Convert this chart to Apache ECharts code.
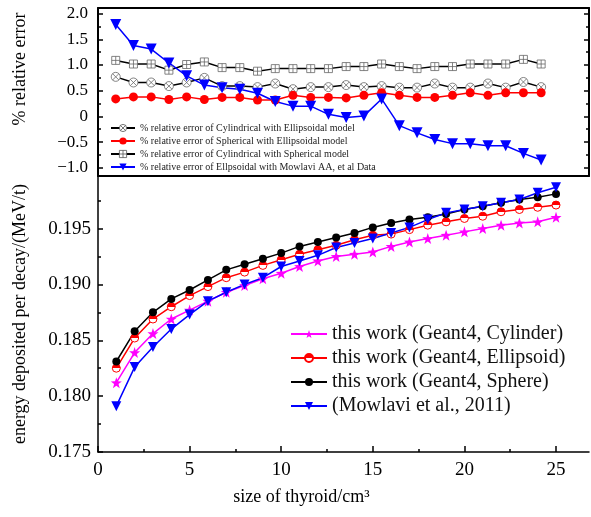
<!DOCTYPE html>
<html>
<head>
<meta charset="utf-8">
<script src="https://cdn.jsdelivr.net/npm/echarts@6/dist/echarts.min.js"></script>
<style>
html, body { margin: 0; padding: 0; background: #fff; }
#chart { width: 591px; height: 517px; }
</style>
</head>
<body>
<div id="chart"></div>
<script>
// thyroid size (cm3)
var sizes = [1, 2, 3, 4, 5, 6, 7, 8, 9, 10, 11, 12, 13, 14, 15, 16, 17, 18, 19, 20, 21, 22, 23, 24, 25];

// upper panel: % relative error
var relNames = [
    '% relative error of Cylindrical with Ellipsoidal model',
    '% relative error of Spherical with Ellipsoidal model',
    '% relative error of Cylindrical with Spherical model',
    '% relative error of Ellpsoidal with Mowlavi AA, et al Data'
];
var relCylEll = [0.77, 0.66, 0.66, 0.59, 0.66, 0.75, 0.59, 0.59, 0.57, 0.64, 0.53, 0.57, 0.57, 0.61, 0.57, 0.59, 0.56, 0.56, 0.64, 0.56, 0.56, 0.64, 0.56, 0.67, 0.57];
var relSphEll = [0.34, 0.38, 0.38, 0.33, 0.38, 0.33, 0.37, 0.37, 0.32, 0.32, 0.41, 0.37, 0.37, 0.36, 0.41, 0.46, 0.41, 0.37, 0.37, 0.41, 0.46, 0.41, 0.46, 0.46, 0.46];
var relCylSph = [1.09, 1.02, 1.02, 0.90, 1.01, 1.06, 0.95, 0.95, 0.88, 0.93, 0.93, 0.93, 0.93, 0.97, 0.97, 1.02, 0.97, 0.93, 0.97, 0.97, 1.02, 1.02, 1.02, 1.11, 1.02];
var relEllMow = [1.79, 1.38, 1.31, 1.04, 0.79, 0.61, 0.56, 0.53, 0.45, 0.29, 0.20, 0.20, 0.04, -0.02, 0.01, 0.34, -0.18, -0.32, -0.45, -0.53, -0.53, -0.57, -0.57, -0.72, -0.85];

// lower panel: energy deposited per decay (MeV/t)
var edNames = [
    'this work (Geant4, Cylinder)',
    'this work (Geant4, Ellipsoid)',
    'this work (Geant4, Sphere)',
    '(Mowlavi et al., 2011)'
];
var edCyl = [0.1812, 0.1839, 0.1856, 0.1869, 0.1877, 0.1885, 0.1893, 0.1899, 0.1905, 0.1910, 0.1916, 0.1921, 0.1925, 0.1927, 0.1929, 0.1934, 0.1938, 0.1941, 0.1944, 0.1947, 0.1950, 0.1953, 0.1955, 0.1956, 0.1960];
var edEll = [0.1825, 0.1852, 0.1869, 0.1880, 0.1890, 0.1898, 0.1906, 0.1911, 0.1917, 0.1922, 0.1927, 0.1931, 0.1935, 0.1940, 0.1944, 0.1945, 0.1949, 0.1953, 0.1956, 0.1959, 0.1961, 0.1965, 0.1967, 0.1969, 0.1971];
var edSph = [0.1831, 0.1858, 0.1875, 0.1887, 0.1895, 0.1904, 0.1913, 0.1918, 0.1923, 0.1928, 0.1934, 0.1938, 0.1942, 0.1946, 0.1951, 0.1955, 0.1958, 0.1960, 0.1963, 0.1967, 0.1970, 0.1973, 0.1976, 0.1978, 0.1981];
var edMow = [0.1791, 0.1826, 0.1844, 0.1860, 0.1873, 0.1885, 0.1893, 0.1900, 0.1906, 0.1916, 0.1921, 0.1926, 0.1933, 0.1937, 0.1941, 0.1946, 0.1951, 0.1958, 0.1964, 0.1967, 0.1970, 0.1973, 0.1976, 0.1982, 0.1987];

// tick positions
var xMajor = [0, 5, 10, 15, 20, 25];
var xMinor = [2.5, 7.5, 12.5, 17.5, 22.5];
var relMajor = [-1, -0.5, 0, 0.5, 1, 1.5, 2];
var relMinor = [-0.75, -0.25, 0.25, 0.75, 1.25, 1.75];
var edMajor = [0.175, 0.18, 0.185, 0.19, 0.195];
var edMinor = [0.1775, 0.1825, 0.1875, 0.1925, 0.1975];

var serif = '"Liberation Serif", "Times New Roman", serif';

// marker shapes
var symCircleX = 'path://M10,0A10,10 0 1,1 -10,0A10,10 0 1,1 10,0Z M-7.07,-7.07L7.07,7.07 M-7.07,7.07L7.07,-7.07';
var symSquarePlus = 'path://M-10,-10L10,-10L10,10L-10,10Z M0,-10L0,10 M-10,0L10,0';
var symTriDown = 'path://M-10,-8L10,-8L0,9Z';
var symStar = 'path://M0,-10L2.35,-3.24L9.51,-3.09L3.8,1.24L5.88,8.09L0,4L-5.88,8.09L-3.8,1.24L-9.51,-3.09L-2.35,-3.24Z';
var halfRed = {
    type: 'linear', x: 0, y: 0, x2: 0, y2: 1,
    colorStops: [
        {offset: 0, color: '#ff0000'}, {offset: 0.5, color: '#ff0000'},
        {offset: 0.5, color: '#ffffff'}, {offset: 1, color: '#ffffff'}
    ]
};
var hollowGray = {color: '#fff', borderColor: '#555', borderWidth: 0.8};

function pairs(arr) {
    return arr.map(function (v, i) {
        return [sizes[i], v];
    });
}

function tickAxis(grid, pos, min, max, values, len, width) {
    return {
        gridIndex: grid, type: 'value', position: pos, min: min, max: max,
        axisLine: {show: false, onZero: false},
        axisTick: {inside: true, length: len, customValues: values, lineStyle: {color: '#000', width: width}},
        axisLabel: {show: false},
        splitLine: {show: false}
    };
}

var myChart = echarts.init(document.getElementById('chart'));

var option = {
    animation: false,
    backgroundColor: '#fff',
    textStyle: {fontFamily: serif, color: '#000'},
    grid: [
        {left: 98, top: 8, width: 491, height: 168, outerBoundsMode: 'none'},
        {left: 98, top: 176, width: 491, height: 276, outerBoundsMode: 'none'}
    ],
    legend: [
        {
            data: [
                {name: relNames[0], itemStyle: hollowGray},
                {name: relNames[1]},
                {name: relNames[2], itemStyle: hollowGray},
                {name: relNames[3]}
            ],
            orient: 'vertical',
            left: 110, top: 123, padding: 0,
            itemWidth: 24, itemHeight: 9, itemGap: 3,
            selectedMode: false,
            textStyle: {fontSize: 10, fontFamily: serif, color: '#222'}
        },
        {
            data: edNames,
            orient: 'vertical',
            left: 290, top: 324, padding: 0,
            itemWidth: 36, itemHeight: 10, itemGap: 4,
            selectedMode: false,
            textStyle: {fontSize: 20, fontFamily: serif, color: '#111'}
        }
    ],
    xAxis: [
        {
            gridIndex: 0, type: 'value', position: 'bottom', min: 0, max: 27.7,
            axisLine: {onZero: false, lineStyle: {color: '#000', width: 2}},
            axisTick: {show: false}, axisLabel: {show: false}, splitLine: {show: false}
        },
        {
            gridIndex: 0, type: 'value', position: 'top', min: 0, max: 27.7,
            axisLine: {onZero: false, lineStyle: {color: '#000', width: 2}},
            axisTick: {show: false}, axisLabel: {show: false}, splitLine: {show: false}
        },
        {
            gridIndex: 1, type: 'value', position: 'bottom', min: 0, max: 26.8,
            axisLine: {onZero: false, lineStyle: {color: '#000', width: 1.5}},
            axisTick: {inside: true, length: 6, customValues: xMajor, lineStyle: {color: '#000', width: 1.5}},
            axisLabel: {customValues: xMajor, margin: 9, fontSize: 19, fontFamily: serif, color: '#000'},
            splitLine: {show: false},
            name: 'size of thyroid/cm³',
            nameLocation: 'middle',
            nameGap: 36,
            nameTextStyle: {fontSize: 18, fontFamily: serif, color: '#000', padding: [0, 84, 0, 0]}
        },
        tickAxis(1, 'bottom', 0, 26.8, xMinor, 3, 1.5)
    ],
    yAxis: [
        {
            gridIndex: 0, type: 'value', position: 'left', min: -1.16, max: 2.11,
            axisLine: {onZero: false, lineStyle: {color: '#000', width: 2}},
            axisTick: {inside: true, length: 5, customValues: relMajor, lineStyle: {color: '#000', width: 1.5}},
            axisLabel: {
                customValues: relMajor, margin: 10, fontSize: 17, fontFamily: serif, color: '#000',
                formatter: function (v) {
                    if (Math.abs(v) < 1e-9) return '0';
                    return v.toFixed(1).replace('-', '\u2212');
                }
            },
            splitLine: {show: false},
            name: '% relative error',
            nameLocation: 'middle',
            nameRotate: 90,
            nameGap: 69,
            nameTextStyle: {fontSize: 18, fontFamily: serif, color: '#000', padding: [0, 0, 0, 46]}
        },
        tickAxis(0, 'left', -1.16, 2.11, relMinor, 3, 1.5),
        {
            gridIndex: 0, type: 'value', position: 'right', min: -1.16, max: 2.11,
            axisLine: {onZero: false, lineStyle: {color: '#000', width: 2}},
            axisTick: {inside: true, length: 5, customValues: relMajor, lineStyle: {color: '#000', width: 1.5}},
            axisLabel: {show: false},
            splitLine: {show: false}
        },
        tickAxis(0, 'right', -1.16, 2.11, relMinor, 3, 1.5),
        {
            gridIndex: 1, type: 'value', position: 'left', min: 0.175, max: 0.1997,
            axisLine: {onZero: false, lineStyle: {color: '#000', width: 1.5}},
            axisTick: {inside: true, length: 5, customValues: edMajor, lineStyle: {color: '#000', width: 1.5}},
            axisLabel: {
                customValues: edMajor, margin: 7, fontSize: 19, fontFamily: serif, color: '#000',
                formatter: function (v) {
                    return v.toFixed(3);
                }
            },
            splitLine: {show: false},
            name: 'energy deposited per decay/(MeV/t)',
            nameLocation: 'middle',
            nameRotate: 90,
            nameGap: 69,
            nameTextStyle: {fontSize: 18, fontFamily: serif, color: '#000'}
        },
        tickAxis(1, 'left', 0.175, 0.1997, edMinor, 3, 1.5)
    ],
    series: [
        // upper panel
        {
            name: relNames[0], type: 'line', xAxisIndex: 0, yAxisIndex: 0,
            data: pairs(relCylEll),
            symbol: symCircleX, symbolSize: 9,
            lineStyle: {color: '#000', width: 1.5},
            itemStyle: {color: '#fff', borderColor: '#666', borderWidth: 0.8}
        },
        {
            name: relNames[1], type: 'line', xAxisIndex: 0, yAxisIndex: 0,
            data: pairs(relSphEll),
            symbol: 'circle', symbolSize: 9,
            lineStyle: {color: '#ff0000', width: 1.5},
            itemStyle: {color: '#ff0000'}
        },
        {
            name: relNames[2], type: 'line', xAxisIndex: 0, yAxisIndex: 0,
            data: pairs(relCylSph),
            symbol: symSquarePlus, symbolSize: 8,
            lineStyle: {color: '#000', width: 1.5},
            itemStyle: {color: '#fff', borderColor: '#666', borderWidth: 0.8}
        },
        {
            name: relNames[3], type: 'line', xAxisIndex: 0, yAxisIndex: 0,
            data: pairs(relEllMow),
            symbol: symTriDown, symbolSize: 11,
            lineStyle: {color: '#0000ff', width: 1.5},
            itemStyle: {color: '#0000ff'}
        },
        // lower panel
        {
            name: edNames[0], type: 'line', xAxisIndex: 2, yAxisIndex: 4,
            data: pairs(edCyl),
            symbol: symStar, symbolSize: 11,
            lineStyle: {color: '#ff00ff', width: 1.5},
            itemStyle: {color: '#ff00ff'}
        },
        {
            name: edNames[1], type: 'line', xAxisIndex: 2, yAxisIndex: 4,
            data: pairs(edEll),
            symbol: 'circle', symbolSize: 8,
            lineStyle: {color: '#ff0000', width: 1.5},
            itemStyle: {color: halfRed, borderColor: '#ff0000', borderWidth: 1}
        },
        {
            name: edNames[2], type: 'line', xAxisIndex: 2, yAxisIndex: 4,
            data: pairs(edSph),
            symbol: 'circle', symbolSize: 8,
            lineStyle: {color: '#000', width: 1.5},
            itemStyle: {color: '#000'}
        },
        {
            name: edNames[3], type: 'line', xAxisIndex: 2, yAxisIndex: 4,
            data: pairs(edMow),
            symbol: symTriDown, symbolSize: 10,
            lineStyle: {color: '#0000ff', width: 1.5},
            itemStyle: {color: '#0000ff'}
        }
    ]
};

myChart.setOption(option);
</script>
</body>
</html>
